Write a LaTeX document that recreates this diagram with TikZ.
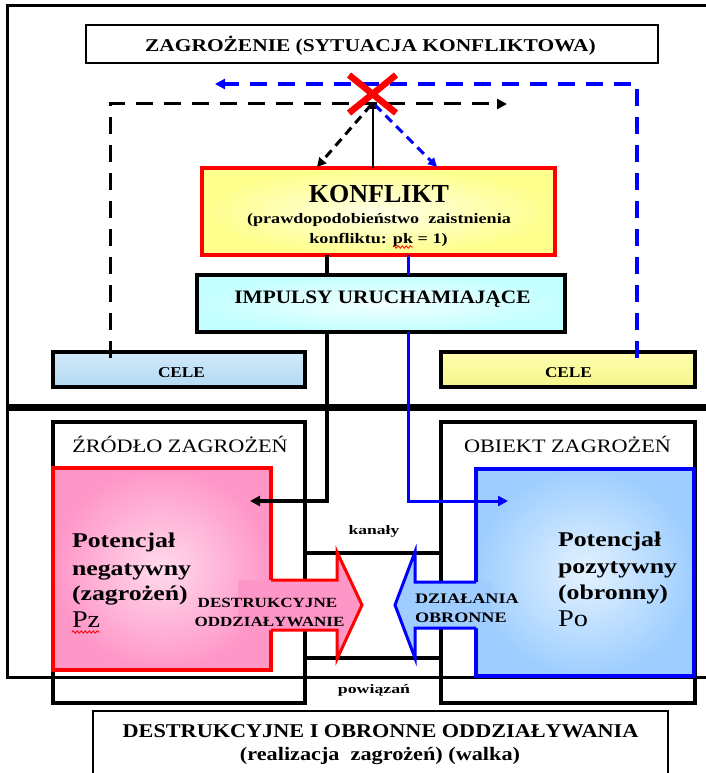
\documentclass[tikz,border=0pt]{standalone}
\usepackage{fontspec}
\usepackage{graphicx}
\setmainfont{Liberation Serif}
\usetikzlibrary{arrows.meta,decorations.pathmorphing}
\definecolor{konfY}{RGB}{255,255,140}
\definecolor{konfI}{RGB}{255,255,230}
\definecolor{impO}{RGB}{195,255,255}
\definecolor{impI}{RGB}{242,255,255}
\definecolor{celeBt}{RGB}{210,235,250}
\definecolor{celeBb}{RGB}{178,216,242}
\definecolor{celeYt}{RGB}{255,255,175}
\definecolor{celeYb}{RGB}{245,245,140}
\definecolor{pinkO}{RGB}{255,150,200}
\definecolor{pinkI}{RGB}{255,218,236}
\definecolor{blueO}{RGB}{158,206,255}
\definecolor{blueI}{RGB}{228,242,255}
\definecolor{arrP}{RGB}{255,150,200}
\definecolor{arrB}{RGB}{160,205,255}
\newcommand{\txb}[3]{{\fontsize{#1pt}{#1pt}\selectfont\bfseries\scalebox{#2}[1]{#3}}}
\newcommand{\txr}[3]{{\fontsize{#1pt}{#1pt}\selectfont\scalebox{#2}[1]{#3}}}
\tikzset{
  box/.style={draw, inner sep=0pt, outer sep=0pt},
  thickbox/.style={box, line width=4pt},
  lbl/.style={inner sep=0pt, outer sep=0pt, anchor=base},
  lblw/.style={inner sep=0pt, outer sep=0pt, anchor=base west},
  bigdashK/.style={line width=3pt, dash pattern=on 17pt off 11pt},
  bigdashB/.style={blue, line width=3.5pt, dash pattern=on 17pt off 11pt},
  smalldash/.style={line width=3pt, dash pattern=on 9pt off 6pt},
  tipA/.style={-{Triangle[length=10pt,width=10pt]}},
  tipS/.style={-{Triangle[length=9pt,width=9pt]}},
  wavy/.style={red, line width=0.8pt, decorate, decoration={snake, amplitude=1.2pt, segment length=4pt}},
}
\begin{document}
\begin{tikzpicture}[x=1pt,y=-1pt]
\useasboundingbox (0,0) rectangle (706,773);
% outer frame and divider
\draw[line width=3pt] (720,6) -- (7,6) -- (7,677) -- (720,677);
\draw[line width=7pt] (7,407) -- (720,407);

% boxes
\node[box, line width=2.5pt, minimum width=572pt, minimum height=38pt] (title) at (372,44) {};
\node[box, draw=red, line width=3.5pt, inner color=konfI, outer color=konfY, minimum width=353pt, minimum height=87pt] (konf) at (378.5,211.5) {};
\node[thickbox, inner color=impI, outer color=impO, minimum width=368pt, minimum height=57pt] (imp) at (381,303.5) {};
\node[thickbox, top color=celeBt, bottom color=celeBb, minimum width=252pt, minimum height=35pt] (celeL) at (179,369.5) {};
\node[thickbox, top color=celeYt, bottom color=celeYb, minimum width=254pt, minimum height=35pt] (celeR) at (568,369.5) {};
\node[thickbox, minimum width=252pt, minimum height=281pt] (src) at (179,562.5) {};
\node[thickbox, minimum width=254pt, minimum height=281pt] (obj) at (568,562.5) {};
\node[box, draw=red, line width=3.5pt, inner color=pinkI, outer color=pinkO, minimum width=218pt, minimum height=202pt] (pinkb) at (162,569) {};
\node[box, draw=blue, line width=4pt, inner color=blueI, outer color=blueO, minimum width=218pt, minimum height=207pt] (blueb) at (585,572.5) {};
\node[box, line width=2.5pt, fill=white, minimum width=575pt, minimum height=79pt] (bottom) at (380.5,750.5) {};

% coordinates for connectors
\coordinate (blk) at (327,0);
\coordinate (blu) at (408,0);
\coordinate (kan) at (0,553);
\coordinate (pow) at (0,658);
\coordinate (pinkTip) at (250,501);
\coordinate (blueTip) at (508,501);
\coordinate (bd1) at (637,358);
\coordinate (bd2) at (637,84);
\coordinate (bd3) at (215,84);
\coordinate (kd1) at (110,358);
\coordinate (kd2) at (110,104);
\coordinate (kd3) at (507,104);
\coordinate (xTip) at (373,102);
\coordinate (xL) at (371,105);
\coordinate (xR) at (375,105);
\coordinate (dL) at (317,167);
\coordinate (dR) at (437,167);
\coordinate (xa) at (349,75);
\coordinate (xb) at (396,113);
\coordinate (xd) at (396,75);
\coordinate (xe) at (349,113);

% dashed feedback lines
\draw[bigdashB, tipA] (bd1) -- (bd2) -- (bd3);
\draw[bigdashK, tipA] (kd1) -- (kd2) -- (kd3);
\draw[smalldash, tipS] (xL) -- (dL);
\draw[smalldash, blue, tipS] (xR) -- (dR);
% red cross
\draw[red, line width=6.5pt] (xa) -- (xb);
\draw[red, line width=6.5pt] (xd) -- (xe);
\draw[line width=1.5pt, -{Triangle[length=7pt,width=6pt]}] (konf.north -| xTip) -- (xTip);

% konflikt to impulsy
\draw[line width=3.3pt] (konf.south -| blk) -- (imp.north -| blk);
\draw[blue, line width=3pt] (konf.south -| blu) -- (imp.north -| blu);
% impulsy to potentials
\draw[line width=3.3pt, tipA] (imp.south -| blk) |- (pinkTip);
\draw[blue, line width=3pt, tipA] (imp.south -| blu) |- (blueTip);

% channel lines
\draw[line width=3.5pt] (src.east |- kan) -- (obj.west |- kan);
\draw[line width=3.5pt] (src.east |- pow) -- (obj.west |- pow);

% big arrows
\shade[left color=arrP, middle color=white, right color=arrP]
  (238,580) -- (337,580) -- (337,552) -- (362,605) -- (337,659) -- (337,630) -- (238,630) -- cycle;
\draw[red, line width=3pt] (271,580) -- (337,580) -- (337,552) -- (362,605) -- (337,659) -- (337,630) -- (271,630);
\shade[left color=arrB, middle color=white, right color=arrB]
  (395,605) -- (415,552) -- (415,582) -- (492,582) -- (492,628) -- (415,628) -- (415,658) -- cycle;
\draw[blue, line width=3pt] (476,582) -- (415,582) -- (415,552) -- (395,605) -- (415,658) -- (415,628) -- (476,628);

% texts
\node[lbl] (tTitle) at (370.5,52) {\txb{18}{1.19}{ZAGROŻENIE (SYTUACJA KONFLIKTOWA)}};
\node[lbl] (tKonf) at (379,202) {\txb{26}{1.0}{KONFLIKT}};
\node[lbl] (tKonf2) at (379,223) {\txb{14.5}{1.25}{(prawdopodobieństwo\ \ zaistnienia}};
\node[lbl] (tKonf3) at (378.5,243) {\txb{14.5}{1.25}{konfliktu: pk = 1)}};
\node[lbl] (tImp) at (382.5,303) {\txb{19}{1.12}{IMPULSY URUCHAMIAJĄCE}};
\node[lbl] (tCeleL) at (181.5,377) {\txb{15}{1.15}{CELE}};
\node[lbl] (tCeleR) at (568.5,377) {\txb{15}{1.15}{CELE}};
\node[lbl] (tSrc) at (180,452) {\txr{19}{1.17}{ŹRÓDŁO ZAGROŻEŃ}};
\node[lbl] (tObj) at (567.5,452) {\txr{19}{1.17}{OBIEKT ZAGROŻEŃ}};
\node[lblw] (pn1) at (72,547) {\txb{21}{1.23}{Potencjał}};
\node[lblw] (pn2) at (72,575) {\txb{21}{1.23}{negatywny}};
\node[lblw] (pn3) at (72,600) {\txb{21}{1.23}{(zagrożeń)}};
\node[lblw] (pn4) at (72,627) {\txr{24}{1.17}{Pz}};
\node[lblw] (pp1) at (558,546) {\txb{21}{1.23}{Potencjał}};
\node[lblw] (pp2) at (558,573) {\txb{21}{1.23}{pozytywny}};
\node[lblw] (pp3) at (558,599) {\txb{21}{1.23}{(obronny)}};
\node[lblw] (pp4) at (558,626) {\txr{24}{1.18}{Po}};
\node[lbl] (tDes1) at (267.5,607) {\txb{14}{1.22}{DESTRUKCYJNE}};
\node[lbl] (tDes2) at (269.5,626) {\txb{14}{1.22}{ODDZIAŁYWANIE}};
\node[lblw] (tDz1) at (415,603) {\txb{14.5}{1.25}{DZIAŁANIA}};
\node[lblw] (tDz2) at (415,622) {\txb{14.5}{1.25}{OBRONNE}};
\node[lbl] (tKan) at (374,534) {\txb{13}{1.35}{kanały}};
\node[lbl] (tPow) at (374,693) {\txb{13}{1.37}{powiązań}};
\node[lbl] (tBot1) at (380.5,737) {\txb{19.5}{1.14}{DESTRUKCYJNE I OBRONNE ODDZIAŁYWANIA}};
\node[lbl] (tBot2) at (380,760) {\txb{19}{1.17}{(realizacja\ \ zagrożeń) (walka)}};

% spell-check marks
\draw[wavy] (393,247) -- (413,247);
\draw[wavy] (72,632) -- (100,632);
\end{tikzpicture}
\end{document}
